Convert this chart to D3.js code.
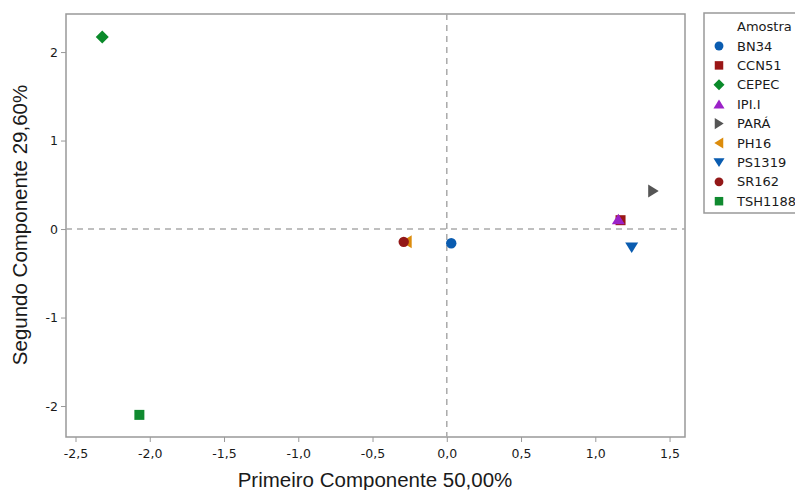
<!DOCTYPE html>
<html>
<head>
<meta charset="utf-8">
<script src="https://cdn.jsdelivr.net/npm/d3@7"></script>
<style>
  body { margin: 0; background: #fff; }
  .tick text { font-family: "DejaVu Sans", sans-serif; font-size: 12.5px; fill: #1a1a1a; }
  .axisTitle { font-family: "Liberation Sans", Arial, sans-serif; font-size: 20.5px; fill: #1a1a1a; }
  .legText { font-family: "DejaVu Sans", sans-serif; font-size: 13px; fill: #1a1a1a; }
</style>
</head>
<body>
<svg id="chart" width="795" height="490"></svg>
<script>
// data
var samples = ["BN34", "CCN51", "CEPEC", "IPI.I", "PARÁ", "PH16", "PS1319", "SR162", "TSH1188"];
var pc1 = [0.03, 1.17, -2.32, 1.155, 1.39, -0.27, 1.245, -0.29, -2.07];
var pc2 = [-0.16, 0.10, 2.17, 0.11, 0.43, -0.145, -0.21, -0.145, -2.10];
var colors = ["#0a5cb0", "#9a1616", "#0a8a2a", "#9b22c8", "#555555", "#dc8c0c", "#0a5cb0", "#931818", "#108a30"];
var shapes = ["circle", "square", "diamond", "triUp", "triRight", "triLeft", "triDown", "circle", "square"];
var xTicks = [-2.5, -2.0, -1.5, -1.0, -0.5, 0.0, 0.5, 1.0, 1.5];
var yTicks = [-2, -1, 0, 1, 2];

var svg = d3.select("#chart");
var pLeft = 66, pTop = 14, pRight = 685, pBottom = 437;

var x = d3.scaleLinear().domain([-2.564, 1.604]).range([pLeft, pRight]);
var y = d3.scaleLinear().domain([-2.35, 2.43]).range([pBottom, pTop]);

var fmt = function (d) { return d3.format(".1f")(d).replace(".", ",").replace("−", "-"); };

// axes
var xAxis = svg.append("g").attr("transform", "translate(0," + pBottom + ")")
    .call(d3.axisBottom(x).tickValues(xTicks).tickSize(5).tickFormat(fmt));
xAxis.select(".domain").remove();
xAxis.selectAll("line").style("stroke", "#999");
xAxis.selectAll("text").attr("dy", "1.05em");

var yAxis = svg.append("g").attr("transform", "translate(" + pLeft + ",0)")
    .call(d3.axisLeft(y).tickValues(yTicks).tickSize(5).tickFormat(function (d) { return String(d); }));
yAxis.select(".domain").remove();
yAxis.selectAll("line").style("stroke", "#999");

// frame
svg.append("rect")
    .attr("x", pLeft).attr("y", pTop)
    .attr("width", pRight - pLeft).attr("height", pBottom - pTop)
    .style("fill", "none").style("stroke", "#999").style("stroke-width", 1.5);

// reference lines
svg.append("line")
    .attr("x1", x(0)).attr("x2", x(0)).attr("y1", pTop).attr("y2", pBottom)
    .style("stroke", "#aaa").style("stroke-width", 1.5).style("stroke-dasharray", "6,5");
svg.append("line")
    .attr("x1", pLeft).attr("x2", pRight).attr("y1", y(0)).attr("y2", y(0))
    .style("stroke", "#aaa").style("stroke-width", 1.5).style("stroke-dasharray", "6,5");

// symbols
var symbolPath = function (s) {
    var r = 5.5;
    if (s === "circle") return d3.symbol().type(d3.symbolCircle).size(85)();
    if (s === "square") return "M-5,-5H5V5H-5Z";
    if (s === "diamond") return "M0,-6.5L6.5,0L0,6.5L-6.5,0Z";
    if (s === "triUp") return "M0,-" + r + "L" + (r + 1) + "," + (r - 0.5) + "L-" + (r + 1) + "," + (r - 0.5) + "Z";
    if (s === "triDown") return "M0," + r + "L" + (r + 1) + ",-" + (r - 0.5) + "L-" + (r + 1) + ",-" + (r - 0.5) + "Z";
    if (s === "triRight") return "M" + r + ",0L-" + (r - 0.5) + "," + (r + 1) + "L-" + (r - 0.5) + ",-" + (r + 1) + "Z";
    if (s === "triLeft") return "M-" + r + ",0L" + (r - 0.5) + "," + (r + 1) + "L" + (r - 0.5) + ",-" + (r + 1) + "Z";
};

var pts = samples.map(function (s, i) { return { name: s, x: pc1[i], y: pc2[i], c: colors[i], sh: shapes[i] }; });

svg.append("g").selectAll("path")
    .data(pts)
    .enter().append("path")
    .attr("transform", function (d) { return "translate(" + x(d.x) + "," + y(d.y) + ")"; })
    .attr("d", function (d) { return symbolPath(d.sh); })
    .style("fill", function (d) { return d.c; });

// axis titles
svg.append("text").attr("class", "axisTitle")
    .attr("x", 375).attr("y", 487)
    .style("text-anchor", "middle")
    .text("Primeiro Componente 50,00%");
svg.append("text").attr("class", "axisTitle")
    .attr("transform", "translate(27,225) rotate(-90)")
    .style("text-anchor", "middle")
    .text("Segundo Componente 29,60%");

// legend
var leg = svg.append("g").attr("transform", "translate(704,13)");
leg.append("rect").attr("x", 0).attr("y", 0).attr("width", 120).attr("height", 200)
    .style("fill", "#fff").style("stroke", "#999").style("stroke-width", 1.5);
leg.append("text").attr("class", "legText").attr("x", 33).attr("y", 18).text("Amostra");
var rows = leg.selectAll(".row").data(pts).enter().append("g")
    .attr("transform", function (d, i) { return "translate(0," + (33 + i * 19.4) + ")"; });
rows.append("path")
    .attr("transform", "translate(15,0) scale(0.85)")
    .attr("d", function (d) { return symbolPath(d.sh); })
    .style("fill", function (d) { return d.c; });
rows.append("text").attr("class", "legText")
    .attr("x", 33).attr("y", 4.5).text(function (d) { return d.name; });
</script>
</body>
</html>
